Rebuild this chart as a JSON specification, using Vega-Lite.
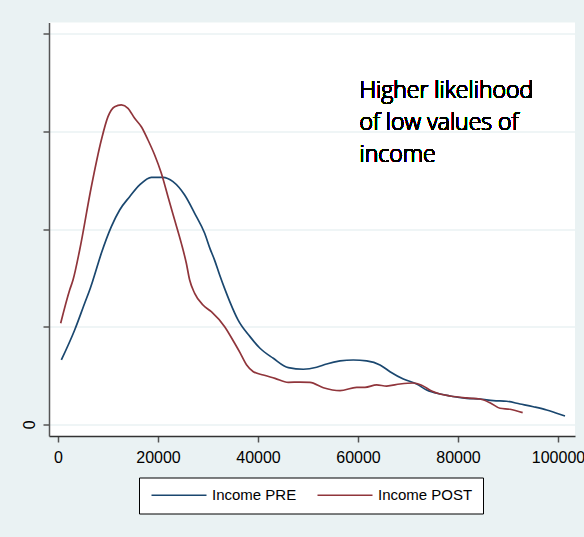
{
  "$schema": "https://vega.github.io/schema/vega-lite/v6.json",
  "autosize": {"type": "none"},
  "width": 526,
  "height": 413.5,
  "padding": {"left": 49, "top": 22.5, "right": 9, "bottom": 101},
  "background": "#eaf2f3",
  "config": {
    "view": {"fill": "white", "stroke": null},
    "font": "Liberation Sans"
  },
  "data": {
    "values": [
      {"series": "Income PRE", "income": 667, "density": 0.659},
      {"series": "Income PRE", "income": 3333, "density": 0.966},
      {"series": "Income PRE", "income": 5333, "density": 1.24},
      {"series": "Income PRE", "income": 6333, "density": 1.376},
      {"series": "Income PRE", "income": 7000, "density": 1.478},
      {"series": "Income PRE", "income": 8667, "density": 1.752},
      {"series": "Income PRE", "income": 10667, "density": 2.025},
      {"series": "Income PRE", "income": 12333, "density": 2.196},
      {"series": "Income PRE", "income": 14333, "density": 2.332},
      {"series": "Income PRE", "income": 16333, "density": 2.452},
      {"series": "Income PRE", "income": 18667, "density": 2.531},
      {"series": "Income PRE", "income": 21000, "density": 2.531},
      {"series": "Income PRE", "income": 23000, "density": 2.486},
      {"series": "Income PRE", "income": 25333, "density": 2.349},
      {"series": "Income PRE", "income": 27333, "density": 2.162},
      {"series": "Income PRE", "income": 29333, "density": 1.957},
      {"series": "Income PRE", "income": 30400, "density": 1.8},
      {"series": "Income PRE", "income": 31333, "density": 1.68},
      {"series": "Income PRE", "income": 32333, "density": 1.53},
      {"series": "Income PRE", "income": 33333, "density": 1.39},
      {"series": "Income PRE", "income": 34333, "density": 1.26},
      {"series": "Income PRE", "income": 36000, "density": 1.07},
      {"series": "Income PRE", "income": 38400, "density": 0.898},
      {"series": "Income PRE", "income": 40400, "density": 0.779},
      {"series": "Income PRE", "income": 43067, "density": 0.676},
      {"series": "Income PRE", "income": 46067, "density": 0.58},
      {"series": "Income PRE", "income": 49067, "density": 0.564},
      {"series": "Income PRE", "income": 51733, "density": 0.584},
      {"series": "Income PRE", "income": 53733, "density": 0.618},
      {"series": "Income PRE", "income": 56400, "density": 0.649},
      {"series": "Income PRE", "income": 59067, "density": 0.659},
      {"series": "Income PRE", "income": 61733, "density": 0.649},
      {"series": "Income PRE", "income": 64400, "density": 0.608},
      {"series": "Income PRE", "income": 66400, "density": 0.539},
      {"series": "Income PRE", "income": 69067, "density": 0.464},
      {"series": "Income PRE", "income": 71733, "density": 0.413},
      {"series": "Income PRE", "income": 73733, "density": 0.351},
      {"series": "Income PRE", "income": 76400, "density": 0.31},
      {"series": "Income PRE", "income": 78400, "density": 0.29},
      {"series": "Income PRE", "income": 81733, "density": 0.266},
      {"series": "Income PRE", "income": 84400, "density": 0.259},
      {"series": "Income PRE", "income": 87067, "density": 0.242},
      {"series": "Income PRE", "income": 89733, "density": 0.236},
      {"series": "Income PRE", "income": 92400, "density": 0.208},
      {"series": "Income PRE", "income": 95067, "density": 0.18},
      {"series": "Income PRE", "income": 97733, "density": 0.147},
      {"series": "Income PRE", "income": 99733, "density": 0.113},
      {"series": "Income PRE", "income": 101400, "density": 0.085},
      {"series": "Income POST", "income": 533, "density": 1.035},
      {"series": "Income POST", "income": 2333, "density": 1.376},
      {"series": "Income POST", "income": 3000, "density": 1.478},
      {"series": "Income POST", "income": 4333, "density": 1.786},
      {"series": "Income POST", "income": 6667, "density": 2.434},
      {"series": "Income POST", "income": 8667, "density": 2.913},
      {"series": "Income POST", "income": 10000, "density": 3.152},
      {"series": "Income POST", "income": 11333, "density": 3.254},
      {"series": "Income POST", "income": 12667, "density": 3.272},
      {"series": "Income POST", "income": 14000, "density": 3.238},
      {"series": "Income POST", "income": 15333, "density": 3.135},
      {"series": "Income POST", "income": 16667, "density": 3.049},
      {"series": "Income POST", "income": 18000, "density": 2.913},
      {"series": "Income POST", "income": 19333, "density": 2.759},
      {"series": "Income POST", "income": 20667, "density": 2.572},
      {"series": "Income POST", "income": 22000, "density": 2.332},
      {"series": "Income POST", "income": 23333, "density": 2.093},
      {"series": "Income POST", "income": 24667, "density": 1.854},
      {"series": "Income POST", "income": 25667, "density": 1.65},
      {"series": "Income POST", "income": 26333, "density": 1.478},
      {"series": "Income POST", "income": 27333, "density": 1.342},
      {"series": "Income POST", "income": 29000, "density": 1.222},
      {"series": "Income POST", "income": 30667, "density": 1.154},
      {"series": "Income POST", "income": 33333, "density": 1.0},
      {"series": "Income POST", "income": 35333, "density": 0.83},
      {"series": "Income POST", "income": 36400, "density": 0.734},
      {"series": "Income POST", "income": 37733, "density": 0.608},
      {"series": "Income POST", "income": 39067, "density": 0.539},
      {"series": "Income POST", "income": 41067, "density": 0.505},
      {"series": "Income POST", "income": 43400, "density": 0.471},
      {"series": "Income POST", "income": 46067, "density": 0.43},
      {"series": "Income POST", "income": 48400, "density": 0.433},
      {"series": "Income POST", "income": 50400, "density": 0.43},
      {"series": "Income POST", "income": 53067, "density": 0.375},
      {"series": "Income POST", "income": 56400, "density": 0.344},
      {"series": "Income POST", "income": 59733, "density": 0.379},
      {"series": "Income POST", "income": 61400, "density": 0.379},
      {"series": "Income POST", "income": 63733, "density": 0.403},
      {"series": "Income POST", "income": 65733, "density": 0.392},
      {"series": "Income POST", "income": 68400, "density": 0.413},
      {"series": "Income POST", "income": 71067, "density": 0.423},
      {"series": "Income POST", "income": 72733, "density": 0.4},
      {"series": "Income POST", "income": 74733, "density": 0.341},
      {"series": "Income POST", "income": 76400, "density": 0.31},
      {"series": "Income POST", "income": 78400, "density": 0.29},
      {"series": "Income POST", "income": 81733, "density": 0.27},
      {"series": "Income POST", "income": 84400, "density": 0.259},
      {"series": "Income POST", "income": 86400, "density": 0.221},
      {"series": "Income POST", "income": 88400, "density": 0.164},
      {"series": "Income POST", "income": 90400, "density": 0.154},
      {"series": "Income POST", "income": 92933, "density": 0.119}
    ]
  },
  "layer": [
    {
      "mark": {"type": "line", "strokeWidth": 1.7, "interpolate": "monotone"},
      "encoding": {
        "x": {
          "field": "income", "type": "quantitative",
          "scale": {"domain": [-1800, 103400], "nice": false, "zero": false},
          "axis": {
            "title": null, "values": [0, 20000, 40000, 60000, 80000, 100000],
            "format": "d", "grid": false, "domain": true, "domainColor": "#333333", "domainWidth": 1.5,
            "tickColor": "#555555", "tickSize": 6, "tickWidth": 1.5,
            "labelFont": "Liberation Sans", "labelFontSize": 16, "labelColor": "#000000",
            "labelPadding": 7, "labelFlush": false, "labelOverlap": false
          }
        },
        "y": {
          "field": "density", "type": "quantitative",
          "scale": {"domain": [-0.12, 4.117], "nice": false, "zero": false},
          "axis": {
            "title": null, "values": [0, 1, 2, 3, 4],
            "labelExpr": "datum.value == 0 ? '0' : ''",
            "grid": true, "gridColor": "#eaf2f3", "gridWidth": 1.5,
            "domain": true, "domainColor": "#555555", "domainWidth": 1.5,
            "tickColor": "#555555", "tickSize": 6, "tickWidth": 1.5,
            "labelAngle": 270, "labelAlign": "center", "labelBaseline": "bottom",
            "labelFont": "Liberation Sans", "labelFontSize": 16, "labelColor": "#000000",
            "labelPadding": 6
          }
        },
        "color": {
          "field": "series", "type": "nominal",
          "scale": {"domain": ["Income PRE", "Income POST"], "range": ["#1a476f", "#90353b"]},
          "legend": {
            "title": null, "orient": "none", "legendX": 90, "legendY": 455,
            "direction": "horizontal", "strokeColor": "#000000", "fillColor": "#ffffff",
            "padding": 10, "symbolType": "M-1,0H10", "symbolSize": 100, "symbolStrokeWidth": 1.6,
            "labelFont": "Liberation Sans", "labelFontSize": 15, "labelColor": "#000000",
            "labelOffset": 48, "columnPadding": 17, "labelLimit": 300
          }
        }
      }
    },
    {
      "mark": {"type": "text", "text": ["Higher likelihood", "of low values of", "income"], "font": "Open Sans", "fontWeight": 300, "fontSize": 23, "lineHeight": 32, "align": "left", "baseline": "alphabetic", "color": "#000000"},
      "encoding": {
        "x": {"datum": 60300, "type": "quantitative"},
        "y": {"datum": 3.34, "type": "quantitative"}
      }
    }
  ]
}
